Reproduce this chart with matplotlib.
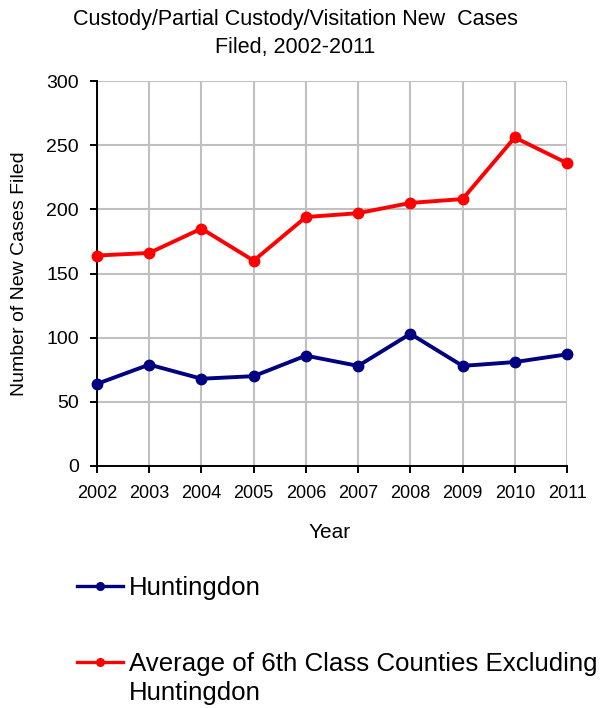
import matplotlib
matplotlib.use("Agg")
import matplotlib.pyplot as plt
from matplotlib.lines import Line2D

plt.rcParams['font.family'] = ['Liberation Sans', 'DejaVu Sans']

years = [2002, 2003, 2004, 2005, 2006, 2007, 2008, 2009, 2010, 2011]
huntingdon = [64, 79, 68, 70, 86, 78, 103, 78, 81, 87]
avg_6th = [164, 166, 185, 160, 194, 197, 205, 208, 256, 236]
series_labels = ["Huntingdon", "Average of 6th Class Counties Excluding\nHuntingdon"]
colors = ["#000080", "#FF0000"]

W, H = 604, 708
fig = plt.figure(figsize=(W / 100, H / 100), dpi=100)
ax = fig.add_axes([97 / W, 1 - 466 / H, (567 - 97) / W, (466 - 81) / H])

for vals, c in zip([huntingdon, avg_6th], colors):
    ax.plot(years, vals, color=c, lw=2.8, marker='o', ms=7.5, zorder=3, clip_on=False)

ax.set_xlim(years[0], years[-1])
ax.set_ylim(0, 300)
ax.set_xticks(years)
ax.set_yticks(range(0, 301, 50))
ax.grid(True, color='#c0c0c0', lw=1.5)
ax.set_axisbelow(True)
for s in ['top', 'right']:
    ax.spines[s].set_visible(False)
for s in ['left', 'bottom']:
    ax.spines[s].set_color('black')
    ax.spines[s].set_linewidth(1.4)
ax.tick_params(axis='both', direction='out', length=5, width=1.4)
ax.tick_params(axis='y', labelsize=14, pad=8)
ax.tick_params(axis='x', labelsize=13, pad=9)

fig.text(20 / W, 1 - 274 / H, "Number of New Cases Filed", rotation=90,
         ha='center', va='center', fontsize=14)
fig.text(330 / W, 1 - 532 / H, "Year", ha='center', va='center', fontsize=15)

fig.text(295 / W, 1 - 19 / H, "Custody/Partial Custody/Visitation New  Cases",
         ha='center', va='center', fontsize=15.5)
fig.text(295 / W, 1 - 47 / H, "Filed, 2002-2011",
         ha='center', va='center', fontsize=15.5)

# legend drawn manually
leg_y = [586, 662]
for y, c, lab in zip(leg_y, colors, series_labels):
    yf = 1 - y / H
    fig.add_artist(Line2D([77 / W, 123 / W], [yf, yf], color=c, lw=2.4,
                          transform=fig.transFigure))
    fig.add_artist(Line2D([100 / W], [yf], color=c, marker='o', ms=5.5,
                          transform=fig.transFigure))
    for i, part in enumerate(lab.split("\n")):
        fig.text(129 / W, 1 - (y + 2 + 29 * i) / H, part, ha='left', va='center',
                 fontsize=18.6)

fig.savefig("out.png", dpi=100)
